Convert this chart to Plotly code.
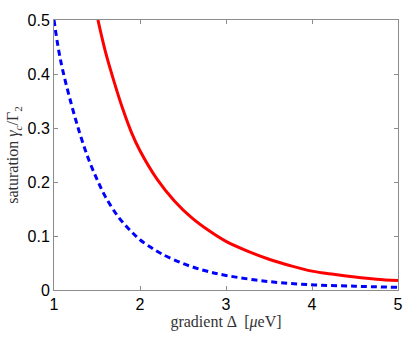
import plotly.graph_objects as go

# values
red_x = [1.511, 1.6, 1.7, 1.8, 1.9, 2.0, 2.2, 2.4, 2.6, 2.8, 3.0, 3.25, 3.5, 3.75, 4.0, 4.25, 4.5, 4.75, 5.0]
red_y = [0.5, 0.44, 0.385, 0.335, 0.292, 0.258, 0.205, 0.165, 0.134, 0.110, 0.090, 0.072,
         0.057, 0.045, 0.035, 0.029, 0.024, 0.020, 0.0174]
blue_x = [1.0, 1.05, 1.1, 1.2, 1.3, 1.4, 1.5, 1.6, 1.75, 1.9, 2.0, 2.125, 2.25, 2.5, 2.75,
          3.0, 3.5, 4.0, 4.5, 5.0]
blue_y = [0.5, 0.448, 0.408, 0.345, 0.29, 0.243, 0.205, 0.172, 0.135, 0.108, 0.093, 0.079,
          0.067, 0.049, 0.036, 0.027, 0.0155, 0.0095, 0.007, 0.005]

x_ticks = [1, 2, 3, 4, 5]
y_ticks = [0, 0.1, 0.2, 0.3, 0.4, 0.5]
y_labels = ["0", "0.1", "0.2", "0.3", "0.4", "0.5"]

fig = go.Figure()
fig.add_trace(go.Scatter(x=red_x, y=red_y, mode="lines",
                         line=dict(color="#ff0000", width=3, shape="spline")))
fig.add_trace(go.Scatter(x=blue_x, y=blue_y, mode="lines",
                         line=dict(color="#0000ff", width=3, shape="spline", dash="6px,4px")))

axis_common = dict(showgrid=False, zeroline=False, showline=True, linecolor="#8c8c8c",
                   linewidth=1, mirror="ticks", ticks="inside", ticklen=4,
                   tickcolor="#8c8c8c", tickfont=dict(family="Liberation Sans", size=16, color="black"))

fig.update_xaxes(range=[1, 5], tickvals=x_ticks,
                 title=dict(text="gradient Δ  [<i>μ</i>eV]", standoff=2,
                            font=dict(family="Liberation Serif", size=16, color="#333")),
                 **axis_common)
fig.update_yaxes(range=[0, 0.5], tickvals=y_ticks, ticktext=y_labels,
                 title=dict(text="saturation <i>γ<sub>c</sub></i>/Γ<sub>2</sub>", standoff=4,
                            font=dict(family="Liberation Serif", size=16, color="#333")),
                 **axis_common)

fig.update_layout(width=415, height=338, showlegend=False,
                  plot_bgcolor="white", paper_bgcolor="white",
                  margin=dict(l=51, r=12, t=16, b=44))

# pin the figure to the window's corner so the page has no extra margin or overflow
page_fix = ("document.body.style.margin='0px';"
            "document.documentElement.style.overflow='hidden';"
            "var gd=document.getElementsByClassName('plotly-graph-div')[0];"
            "gd.style.position='fixed';gd.style.left='0px';gd.style.top='0px';")
fig.write_html("out.html", config={"displayModeBar": False}, post_script=page_fix)
